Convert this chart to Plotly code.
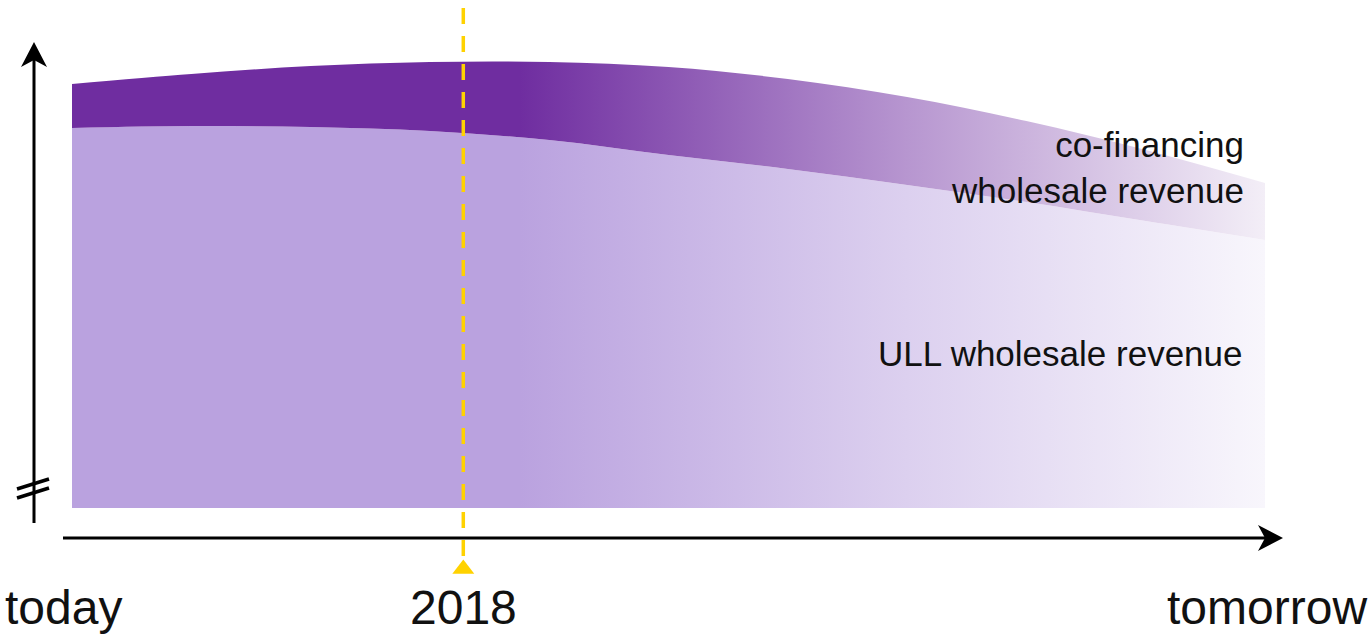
import plotly.graph_objects as go

# Timeline position: 0 = today, 1 = tomorrow
timeline = [0.0, 0.1, 0.2, 0.3, 0.4, 0.5, 0.6, 0.7, 0.8, 0.9, 1.0]
# Revenue streams (arbitrary units above the broken axis baseline)
ull_revenue = [380, 382, 381, 377, 368, 353, 339, 323, 306, 287, 268]
cofinancing_revenue = [44, 52, 61, 69, 78, 88, 90, 88, 81, 71, 57]
# Position of the 2018 milestone on the timeline
milestone_2018 = 0.328
milestone_label = "2018"
start_label = "today"
end_label = "tomorrow"
series_labels = ["ULL wholesale revenue", "co-financing<br>wholesale revenue"]

W, H = 1370, 636
FONT = "Liberation Sans, Arial, Helvetica, sans-serif"
DARK = (111, 45, 160)
LIGHT = (186, 162, 223)
GOLD = "#FFD200"


def px(x):
    return x / W


def py(y):
    return 1 - y / H


def paper_path(points):
    # closed SVG path in paper coordinates from pixel positions
    parts = [f"{'M' if i == 0 else 'L'}{px(x):.5f},{py(y):.5f}" for i, (x, y) in enumerate(points)]
    return " ".join(parts) + " Z"


def faded(rgb, alpha):
    r, g, b = (round(255 + (c - 255) * alpha) for c in rgb)
    return f"rgb({r},{g},{b})"


def fade_scale(rgb, end_alpha):
    # solid for the first part of the timeline, then washing out towards white
    return [[0.0, faded(rgb, 1.0)], [0.375, faded(rgb, 1.0)],
            [0.7, faded(rgb, 0.5)], [1.0, faded(rgb, end_alpha)]]


stack_top = [u + c for u, c in zip(ull_revenue, cofinancing_revenue)]

fig = go.Figure()
fig.add_trace(go.Scatter(
    x=timeline, y=ull_revenue, mode="lines", line=dict(width=0, shape="spline"),
    fill="tozeroy",
    fillgradient=dict(type="horizontal", colorscale=fade_scale(LIGHT, 0.1), start=0, stop=1),
    hoverinfo="skip", showlegend=False,
))
fig.add_trace(go.Scatter(
    x=timeline, y=stack_top, mode="lines", line=dict(width=0, shape="spline"),
    fill="tonexty",
    fillgradient=dict(type="horizontal", colorscale=fade_scale(DARK, 0.08), start=0, stop=1),
    hoverinfo="skip", showlegend=False,
))
# milestone pointer under the time axis
fig.add_trace(go.Scatter(
    x=[milestone_2018], y=[-61], mode="markers",
    marker=dict(symbol="triangle-up", size=19, color=GOLD),
    hoverinfo="skip", showlegend=False, cliponaxis=False,
))

x_left = 72
x_span = 1193
fig.update_xaxes(visible=False, range=[-x_left / x_span, (W - x_left) / x_span])
fig.update_yaxes(visible=False, range=[-128, 508])

black_line = dict(color="black", width=3)
shapes = [
    # dashed milestone line
    dict(type="line", xref="x", yref="paper", x0=milestone_2018, x1=milestone_2018,
         y0=py(-20), y1=py(556), line=dict(color=GOLD, width=3.5, dash="16px,12px")),
    # value axis with arrowhead
    dict(type="line", xref="paper", yref="paper", x0=px(34), y0=py(523), x1=px(34), y1=py(56),
         line=black_line),
    dict(type="path", xref="paper", yref="paper",
         path=paper_path([(34, 42), (47, 67), (34, 60), (21, 67)]),
         fillcolor="black", line=dict(width=0)),
    # time axis with arrowhead
    dict(type="line", xref="paper", yref="paper", x0=px(63), y0=py(538), x1=px(1268), y1=py(538),
         line=black_line),
    dict(type="path", xref="paper", yref="paper",
         path=paper_path([(1283, 538), (1258, 551), (1265, 538), (1258, 525)]),
         fillcolor="black", line=dict(width=0)),
    # axis break marks
    dict(type="line", xref="paper", yref="paper", x0=px(17), y0=py(489), x1=px(49), y1=py(479),
         line=dict(color="black", width=3.5)),
    dict(type="line", xref="paper", yref="paper", x0=px(17), y0=py(498), x1=px(49), y1=py(488),
         line=dict(color="black", width=3.5)),
]

annotations = [
    dict(x=px(1246), y=py(168), xref="paper", yref="paper", xanchor="right", yanchor="middle",
         align="right", text=series_labels[1], showarrow=False,
         font=dict(family=FONT, size=35, color="#111")),
    dict(x=px(1245), y=py(353), xref="paper", yref="paper", xanchor="right", yanchor="middle",
         text=series_labels[0], showarrow=False, font=dict(family=FONT, size=35, color="#111")),
    dict(x=px(3), y=0, xref="paper", yref="paper", xanchor="left", yanchor="bottom",
         text=start_label, showarrow=False, font=dict(family=FONT, size=48, color="#111")),
    dict(x=milestone_2018, y=0, xref="x", yref="paper", xanchor="center", yanchor="bottom",
         text=milestone_label, showarrow=False,
         font=dict(family=FONT, size=48, color="#111")),
    dict(x=px(1369), y=0, xref="paper", yref="paper", xanchor="right", yanchor="bottom",
         text=end_label, showarrow=False, font=dict(family=FONT, size=48, color="#111")),
]

fig.update_layout(
    width=W, height=H, margin=dict(l=0, r=0, t=0, b=0),
    paper_bgcolor="white", plot_bgcolor="white",
    shapes=shapes, annotations=annotations, showlegend=False,
)

fig.write_html("out.html")
